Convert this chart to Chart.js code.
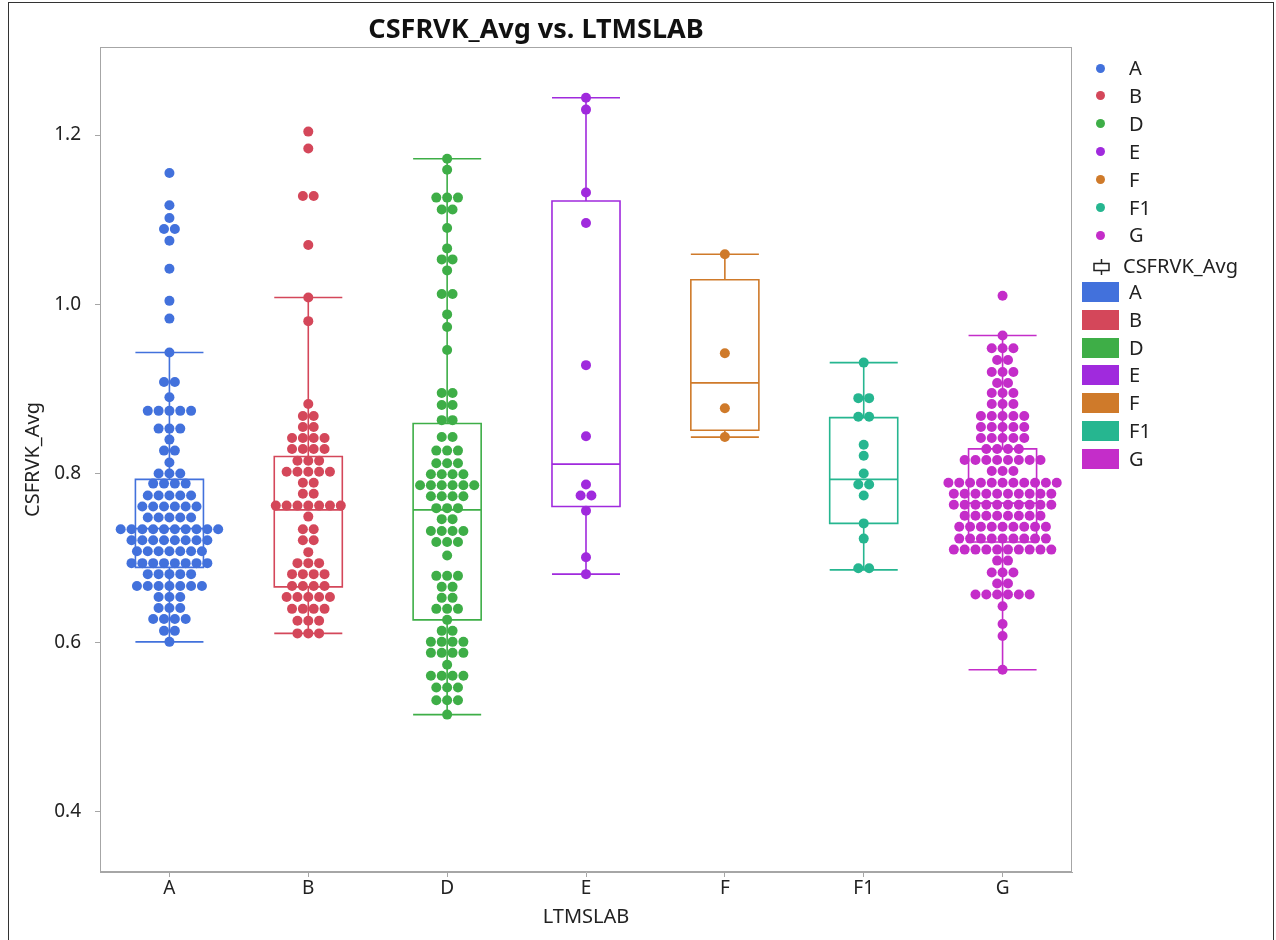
<!DOCTYPE html>
<html>
<head>
<meta charset="utf-8">
<script src="https://cdn.jsdelivr.net/npm/chart.js@4.4.1/dist/chart.umd.min.js"></script>
<style>
html, body { margin: 0; padding: 0; background: #fff; overflow: hidden; }
#wrap { position: relative; width: 1276px; height: 940px; }
#frame { position: absolute; left: 8px; top: 2px; width: 1264px; height: 960px; border: 1px solid #333; pointer-events: none; }
#legend { position: absolute; left: 0; top: 0; font-family: 'Noto Sans', sans-serif; font-size: 20px; color: #222; }
.item { position: absolute; height: 24px; line-height: 24px; white-space: nowrap; }
.dot { position: absolute; width: 9px; height: 9px; border-radius: 50%; }
.swatch { position: absolute; width: 37px; height: 20px; }
</style>
</head>
<body>
<div id="wrap">
  <canvas id="chart"></canvas>
  <div id="legend"></div>
  <div id="frame"></div>
</div>
<script>
const categories = ['A', 'B', 'D', 'E', 'F', 'F1', 'G'];
const colors = ['#4271dc', '#d4475a', '#3eae47', '#a02add', '#cf7a2a', '#26b690', '#c42dc9'];
const yTicks = [0.4, 0.6, 0.8, 1.0, 1.2];

// values read row by row, top to bottom
const groupA = [
  1.155, 1.117, 1.102, 1.089, 1.089, 1.075, 1.042, 1.004, 0.983, 0.943,
  0.908, 0.908, 0.890,
  0.874, 0.874, 0.874, 0.874, 0.874,
  0.853, 0.853, 0.853,
  0.840,
  0.827, 0.827,
  0.813,
  0.800, 0.800, 0.800,
  0.788, 0.788, 0.788, 0.788,
  0.774, 0.774, 0.774, 0.774, 0.774,
  0.761, 0.761, 0.761, 0.761, 0.761, 0.761,
  0.748, 0.748, 0.748, 0.748, 0.748,
  0.734, 0.734, 0.734, 0.734, 0.734, 0.734, 0.734, 0.734, 0.734, 0.734,
  0.721, 0.721, 0.721, 0.721, 0.721, 0.721, 0.721, 0.721,
  0.708, 0.708, 0.708, 0.708, 0.708, 0.708, 0.708,
  0.694, 0.694, 0.694, 0.694, 0.694, 0.694, 0.694, 0.694,
  0.681, 0.681, 0.681, 0.681, 0.681,
  0.667, 0.667, 0.667, 0.667, 0.667, 0.667, 0.667,
  0.654, 0.654, 0.654,
  0.641, 0.641, 0.641,
  0.628, 0.628, 0.628, 0.628,
  0.614, 0.614,
  0.601
];
const groupB = [
  1.204, 1.184, 1.128, 1.128, 1.070, 1.008, 0.980, 0.882,
  0.868, 0.868,
  0.855, 0.855,
  0.842, 0.842, 0.842, 0.842,
  0.829, 0.829, 0.829, 0.829,
  0.815, 0.815, 0.815,
  0.802, 0.802, 0.802, 0.802, 0.802,
  0.789, 0.789,
  0.776, 0.776,
  0.762, 0.762, 0.762, 0.762, 0.762, 0.762, 0.762,
  0.749,
  0.734, 0.734,
  0.721, 0.721,
  0.707,
  0.694, 0.694, 0.694,
  0.681, 0.681, 0.681, 0.681,
  0.667, 0.667, 0.667, 0.667,
  0.654, 0.654, 0.654, 0.654, 0.654,
  0.640, 0.640, 0.640, 0.640,
  0.626, 0.626, 0.626,
  0.611, 0.611, 0.611
];
const groupD = [
  1.172, 1.159, 1.126, 1.126, 1.126, 1.112, 1.112, 1.090, 1.066,
  1.053, 1.053, 1.040, 1.012, 1.012, 0.988, 0.973, 0.946,
  0.895, 0.895,
  0.881, 0.881,
  0.863, 0.863,
  0.843, 0.843,
  0.827, 0.827, 0.827,
  0.812, 0.812, 0.812,
  0.799, 0.799, 0.799, 0.799,
  0.786, 0.786, 0.786, 0.786, 0.786, 0.786,
  0.773, 0.773, 0.773, 0.773,
  0.759, 0.759, 0.759,
  0.746, 0.746,
  0.732, 0.732, 0.732, 0.732,
  0.719, 0.719, 0.719,
  0.703,
  0.679, 0.679, 0.679,
  0.666, 0.666,
  0.653, 0.653,
  0.640, 0.640, 0.640,
  0.627,
  0.614, 0.614,
  0.601, 0.601, 0.601, 0.601,
  0.588, 0.588, 0.588, 0.588,
  0.574,
  0.561, 0.561, 0.561, 0.561,
  0.547, 0.547, 0.547,
  0.532, 0.532, 0.532,
  0.515
];
const groupE = [1.244, 1.230, 1.132, 1.096, 0.928, 0.844, 0.787, 0.774, 0.774, 0.756, 0.701, 0.681];
const groupF = [1.059, 0.942, 0.877, 0.843];
const groupF1 = [0.931, 0.889, 0.889, 0.867, 0.867, 0.834, 0.821, 0.800, 0.787, 0.787, 0.774, 0.741, 0.723, 0.688, 0.688];
const groupG = [
  1.010, 0.963,
  0.948, 0.948, 0.948,
  0.934, 0.934,
  0.920, 0.920, 0.920,
  0.907, 0.907,
  0.895, 0.895, 0.895,
  0.882, 0.882, 0.882,
  0.868, 0.868, 0.868, 0.868, 0.868,
  0.855, 0.855, 0.855, 0.855, 0.855,
  0.842, 0.842, 0.842, 0.842, 0.842,
  0.829, 0.829, 0.829, 0.829,
  0.816, 0.816, 0.816, 0.816, 0.816, 0.816, 0.816, 0.816,
  0.803, 0.803, 0.803,
  0.789, 0.789, 0.789, 0.789, 0.789, 0.789, 0.789, 0.789, 0.789, 0.789, 0.789,
  0.776, 0.776, 0.776, 0.776, 0.776, 0.776, 0.776, 0.776, 0.776, 0.776,
  0.763, 0.763, 0.763, 0.763, 0.763, 0.763, 0.763, 0.763, 0.763, 0.763,
  0.750, 0.750, 0.750, 0.750, 0.750, 0.750, 0.750, 0.750,
  0.737, 0.737, 0.737, 0.737, 0.737, 0.737, 0.737, 0.737, 0.737,
  0.723, 0.723, 0.723, 0.723, 0.723, 0.723, 0.723, 0.723, 0.723,
  0.710, 0.710, 0.710, 0.710, 0.710, 0.710, 0.710, 0.710, 0.710, 0.710,
  0.697, 0.697,
  0.683, 0.683, 0.683,
  0.670, 0.670,
  0.657, 0.657, 0.657, 0.657, 0.657, 0.657,
  0.643, 0.622, 0.608, 0.568
];
const groups = [groupA, groupB, groupD, groupE, groupF, groupF1, groupG];

// box plot statistics per category
const whiskLo = [0.601, 0.611, 0.515, 0.681, 0.843, 0.686, 0.568];
const q1 = [0.689, 0.666, 0.627, 0.761, 0.851, 0.741, 0.719];
const median = [0.735, 0.757, 0.757, 0.811, 0.907, 0.793, 0.765];
const q3 = [0.793, 0.820, 0.859, 1.122, 1.029, 0.866, 0.829];
const whiskHi = [0.943, 1.008, 1.172, 1.244, 1.059, 0.931, 0.963];

const dotGap = 0.078;
const boxHalf = 0.245;
const plotTop = 47;
const font = "'Noto Sans', sans-serif";

function swarm(values, center) {
    const rows = new Map();
    values.forEach(v => {
        const k = v.toFixed(3);
        if (!rows.has(k)) rows.set(k, []);
        rows.get(k).push(v);
    });
    const pts = [];
    rows.forEach(row => {
        const n = row.length;
        row.forEach((v, i) => pts.push({x: center + (i - (n - 1) / 2) * dotGap, y: v}));
    });
    return pts;
}

const boxPlugin = {
    id: 'boxes',
    afterDatasetsDraw(chart) {
        const {ctx, scales: {x, y}} = chart;
        ctx.save();
        ctx.lineWidth = 1.6;
        categories.forEach((c, i) => {
            const xl = x.getPixelForValue(i - boxHalf);
            const xr = x.getPixelForValue(i + boxHalf);
            const xc = x.getPixelForValue(i);
            const yq1 = y.getPixelForValue(q1[i]);
            const yq3 = y.getPixelForValue(q3[i]);
            const ym = y.getPixelForValue(median[i]);
            const ylo = y.getPixelForValue(whiskLo[i]);
            const yhi = y.getPixelForValue(whiskHi[i]);
            ctx.strokeStyle = colors[i];
            ctx.beginPath();
            ctx.rect(xl, yq3, xr - xl, yq1 - yq3);
            ctx.moveTo(xl, ym); ctx.lineTo(xr, ym);
            ctx.moveTo(xc, yq3); ctx.lineTo(xc, yhi);
            ctx.moveTo(xc, yq1); ctx.lineTo(xc, ylo);
            ctx.moveTo(xl, yhi); ctx.lineTo(xr, yhi);
            ctx.moveTo(xl, ylo); ctx.lineTo(xr, ylo);
            ctx.stroke();
        });
        ctx.restore();
    },
    afterDraw(chart) {
        const {ctx, chartArea: a} = chart;
        ctx.save();
        ctx.strokeStyle = '#a6a6a6';
        ctx.lineWidth = 1;
        ctx.strokeRect(a.left + 0.5, a.top + 0.5, a.right - a.left - 1, a.bottom - a.top - 1);
        ctx.restore();
    }
};

Chart.defaults.font.family = font;
Chart.defaults.color = '#222';

const canvas = document.getElementById('chart');
canvas.width = 1276; canvas.height = 940;
canvas.style.width = '1276px'; canvas.style.height = '940px';

new Chart(canvas.getContext('2d'), {
    type: 'scatter',
    data: {
        datasets: groups.map((g, i) => ({
            label: categories[i],
            data: swarm(g, i),
            backgroundColor: colors[i],
            borderWidth: 0,
            pointRadius: 5,
        }))
    },
    plugins: [boxPlugin],
    options: {
        responsive: false,
        animation: false,
        layout: {padding: {left: 0, right: 204, top: 0, bottom: 0}},
        scales: {
            x: {
                type: 'linear',
                min: -0.5,
                max: 6.5,
                afterFit: s => { s.height = 68; },
                afterBuildTicks: s => { s.ticks = categories.map((c, i) => ({value: i})); },
                ticks: {
                    callback: v => categories[v],
                    font: {size: 19},
                    padding: 0,
                    maxRotation: 0,
                },
                grid: {display: true, drawOnChartArea: false, tickLength: 5, color: '#a6a6a6'},
                border: {color: '#a6a6a6'},
                title: {display: true, text: 'LTMSLAB', font: {size: 20}, padding: {top: 0, bottom: 11}},
            },
            y: {
                min: 0.329,
                max: 1.304,
                afterFit: s => { s.width = 100; },
                afterBuildTicks: s => { s.ticks = yTicks.map(v => ({value: v})); },
                ticks: {
                    callback: v => v.toFixed(1),
                    font: {size: 19},
                    padding: 14,
                },
                grid: {display: true, drawOnChartArea: false, tickLength: 5, color: '#a6a6a6'},
                border: {color: '#a6a6a6'},
                title: {display: true, text: 'CSFRVK_Avg', font: {size: 20}, padding: {top: 21, bottom: 0}},
            }
        },
        plugins: {
            legend: {display: false},
            tooltip: {enabled: false},
            title: {
                display: true,
                text: 'CSFRVK_Avg vs. LTMSLAB',
                font: {size: 27, weight: 'bold', lineHeight: 1.2},
                color: '#111',
                padding: {top: 14, bottom: plotTop - 14 - 32.4},
            }
        }
    }
});

// legend on the right
const legend = document.getElementById('legend');
const rowGap = 27.9;
function addItem(top, marker, text, textLeft) {
    const el = document.createElement('div');
    el.className = 'item';
    el.style.top = top + 'px';
    el.style.left = textLeft + 'px';
    el.textContent = text;
    legend.appendChild(el);
    if (marker) legend.appendChild(marker);
}
categories.forEach((c, i) => {
    const top = 56 + i * rowGap;
    const d = document.createElement('div');
    d.className = 'dot';
    d.style.background = colors[i];
    d.style.left = '1096px';
    d.style.top = (top + 7.5) + 'px';
    addItem(top, d, c, 1129);
});
const icon = document.createElementNS('http://www.w3.org/2000/svg', 'svg');
icon.setAttribute('width', '22'); icon.setAttribute('height', '18');
icon.style.position = 'absolute';
icon.style.left = '1091px';
icon.style.top = '258px';
icon.innerHTML = '<line x1="10.5" y1="1" x2="10.5" y2="17" stroke="#222" stroke-width="1.5"/>' +
    '<rect x="3" y="5.5" width="15" height="7" fill="#fff" stroke="#222" stroke-width="1.5"/>';
addItem(254, icon, 'CSFRVK_Avg', 1123);
categories.forEach((c, i) => {
    const top = 280 + i * 27.8;
    const s = document.createElement('div');
    s.className = 'swatch';
    s.style.background = colors[i];
    s.style.left = '1082px';
    s.style.top = (top + 2) + 'px';
    addItem(top, s, c, 1129);
});
</script>
</body>
</html>
